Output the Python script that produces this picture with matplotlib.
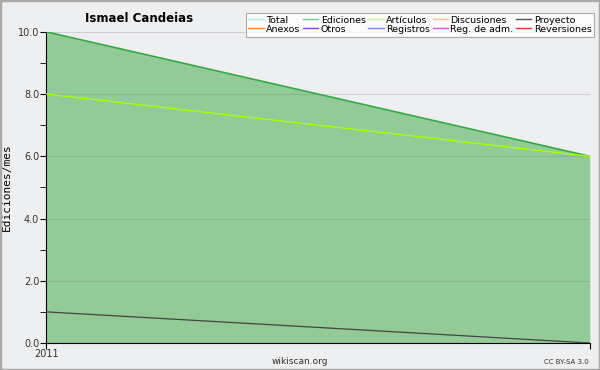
import matplotlib.pyplot as plt
from matplotlib.lines import Line2D

# meses (2 puntos) y valores por serie
months = [0, 1]
total = [10.0, 6.0]
ediciones = [10.0, 6.0]
articulos = [8.0, 6.0]
proyecto = [1.0, 0.0]

legend_names = ["Total", "Ediciones", "Artículos", "Discusiones", "Proyecto",
                "Anexos", "Otros", "Registros", "Reg. de adm.", "Reversiones"]
legend_colors = ["#aaeeee", "#77cc88", "#ccff66", "#ffcc55", "#555555",
                 "#ff8844", "#8844cc", "#7788ee", "#cc55dd", "#ee3333"]

bg = "#eeeff1"
fig = plt.figure(figsize=(6, 3.7), dpi=100, facecolor=bg)
fig.patches.append(plt.Rectangle((0, 0), 1, 1, transform=fig.transFigure,
                                 fill=False, edgecolor="#aaaaaa", lw=2.5))
ax = fig.add_axes([0.077, 0.073, 0.906, 0.841], facecolor=bg)

ax.fill_between(months, 0, ediciones, color="#93cb98", lw=0, zorder=1)
ax.plot(months, total, color="#33aa44", lw=1.2, zorder=3)
ax.plot(months, articulos, color="#aaff00", lw=1.0, zorder=3)
ax.plot(months, proyecto, color="#444444", lw=0.9, zorder=3)

ax.set_xlim(0, 1)
ax.set_ylim(0, 10)
ax.set_yticks([0, 2, 4, 6, 8, 10])
ax.set_yticklabels(["0.0", "2.0", "4.0", "6.0", "8.0", "10.0"], fontsize=7, color="#333333")
ax.set_yticks([1, 3, 5, 7, 9], minor=True)
ax.tick_params(axis="y", which="both", direction="out", length=4, pad=1)
ax.set_xticks([0, 1])
ax.set_xticklabels(["2011", ""], fontsize=7, color="#333333")
ax.tick_params(axis="x", direction="out", length=4, pad=0)
ax.grid(axis="y", color="#777777", alpha=0.25, lw=0.8, zorder=2)
ax.set_axisbelow(False)
for s in ["top", "right"]:
    ax.spines[s].set_visible(False)
ax.spines["left"].set_color("black")
ax.spines["bottom"].set_color("black")

ax.set_ylabel("Ediciones/mes", fontsize=8, family="DejaVu Sans Mono", labelpad=4)
fig.text(0.142, 0.95, "Ismael Candeias", fontsize=8.5, fontweight="bold", ha="left", va="center")
fig.text(0.5, 0.022, "wikiscan.org", fontsize=6.5, ha="center", va="center", color="#333333")
fig.text(0.982, 0.022, "CC BY-SA 3.0", fontsize=5, ha="right", va="center", color="#333333")

# la leyenda se llena por columnas: reordenar para que quede por filas
order = [0, 5, 1, 6, 2, 7, 3, 8, 4, 9]
handles = [Line2D([], [], color=legend_colors[i], lw=1) for i in order]
labels = [legend_names[i] for i in order]
leg = fig.legend(handles, labels, loc="upper right", bbox_to_anchor=(0.9985, 0.978),
                 ncol=5, fontsize=6.8, handlelength=1.6, handletextpad=0.25, columnspacing=0.3,
                 labelspacing=0.0, borderpad=0.3, frameon=True, fancybox=False)
leg.get_frame().set_edgecolor("#999999")
leg.get_frame().set_linewidth(0.8)

fig.savefig("out.png", dpi=100, facecolor=fig.get_facecolor())
